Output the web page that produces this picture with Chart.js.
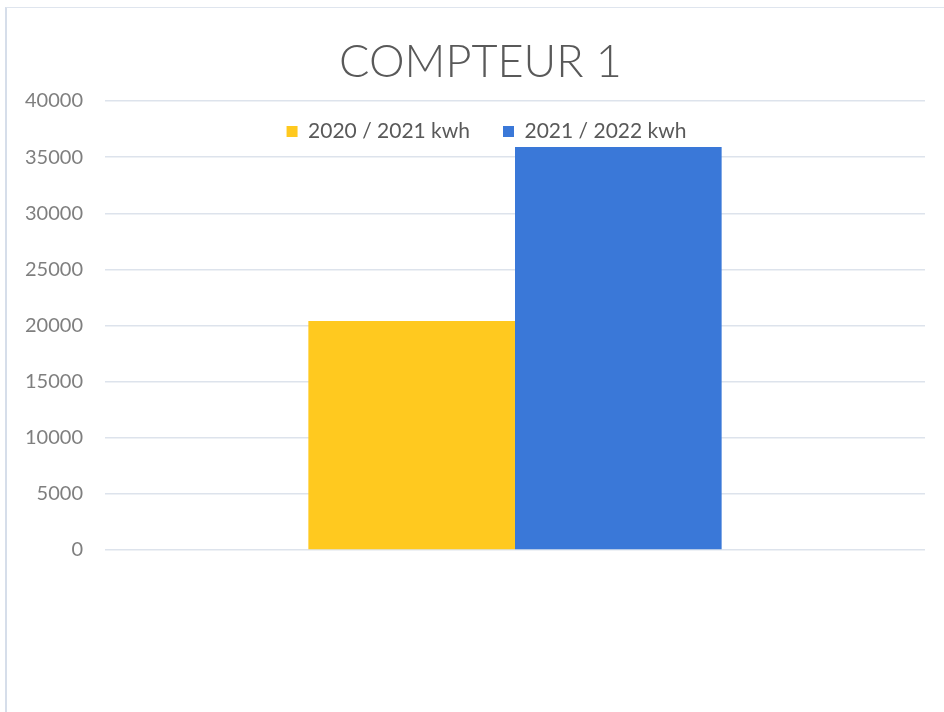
<!DOCTYPE html>
<html>
<head>
<meta charset="utf-8">
<script src="https://cdn.jsdelivr.net/npm/chart.js@4/dist/chart.umd.min.js"></script>
<style>
	html, body { margin: 0; padding: 0; background: #fff; }
	#wrap {
		position: relative;
		width: 944px;
		height: 712px;
	}
	#frame {
		position: absolute;
		left: 5px;
		top: 7px;
		right: 0;
		bottom: 0;
		border-left: 2px solid #d6deea;
		border-top: 1px solid #dfe5ee;
		pointer-events: none;
	}
</style>
</head>
<body>
<div id="wrap">
	<canvas id="compteur-chart" width="944" height="712"></canvas>
	<div id="frame"></div>
</div>
<script>
// données
const categories = [''];
const seriesNames = ['2020 / 2021 kwh', '2021 / 2022 kwh'];
const conso2020 = [20400];
const conso2021 = [35900];
const yTicks = [0, 5000, 10000, 15000, 20000, 25000, 30000, 35000, 40000];

// la légende est posée en bas par Chart.js puis remontée dans la zone du graphique
const legendInside = {
	id: 'legendInside',
	afterLayout(chart) {
		const lg = chart.legend;
		const h = lg.height;
		lg.top = chart.chartArea.top - 13;
		lg.bottom = lg.top + h;
		lg.left += 24;
		lg.right += 24;
		chart.titleBlock.left += 18;
		chart.titleBlock.right += 18;
	}
};

const ctx = document.getElementById('compteur-chart').getContext('2d');
const chart = new Chart(ctx, {
	type: 'bar',
	data: {
		labels: categories,
		datasets: [
			{
				label: seriesNames[0],
				data: conso2020,
				backgroundColor: '#ffc91f',
				categoryPercentage: 0.504,
				barPercentage: 1.0
			},
			{
				label: seriesNames[1],
				data: conso2021,
				backgroundColor: '#3a78d8',
				categoryPercentage: 0.504,
				barPercentage: 1.0
			}
		]
	},
	plugins: [legendInside],
	options: {
		responsive: false,
		animation: false,
		layout: {
			padding: { left: 0, right: 19, top: 0, bottom: 98 }
		},
		plugins: {
			title: {
				display: true,
				text: 'COMPTEUR 1',
				color: '#595959',
				font: { family: 'Lato', size: 45, weight: '300' },
				padding: { top: 35, bottom: 12 }
			},
			legend: {
				position: 'bottom',
				align: 'center',
				labels: {
					color: '#595959',
					font: { family: 'Lato', size: 21 },
					boxWidth: 11,
					boxHeight: 11,
					padding: 33
				}
			},
			tooltip: { enabled: false }
		},
		scales: {
			x: {
				display: false
			},
			y: {
				min: 0,
				max: 40000,
				afterBuildTicks: (scale) => {
					scale.ticks = yTicks.map(v => ({ value: v }));
				},
				afterFit: (scale) => {
					scale.width = 105;
				},
				border: { display: false },
				grid: {
					color: '#dde3ec',
					lineWidth: 1.5,
					drawTicks: false
				},
				ticks: {
					color: '#7f7f7f',
					font: { family: 'Lato', size: 20 },
					padding: 22,
					callback: (value) => String(value)
				}
			}
		}
	}
});
</script>
</body>
</html>
